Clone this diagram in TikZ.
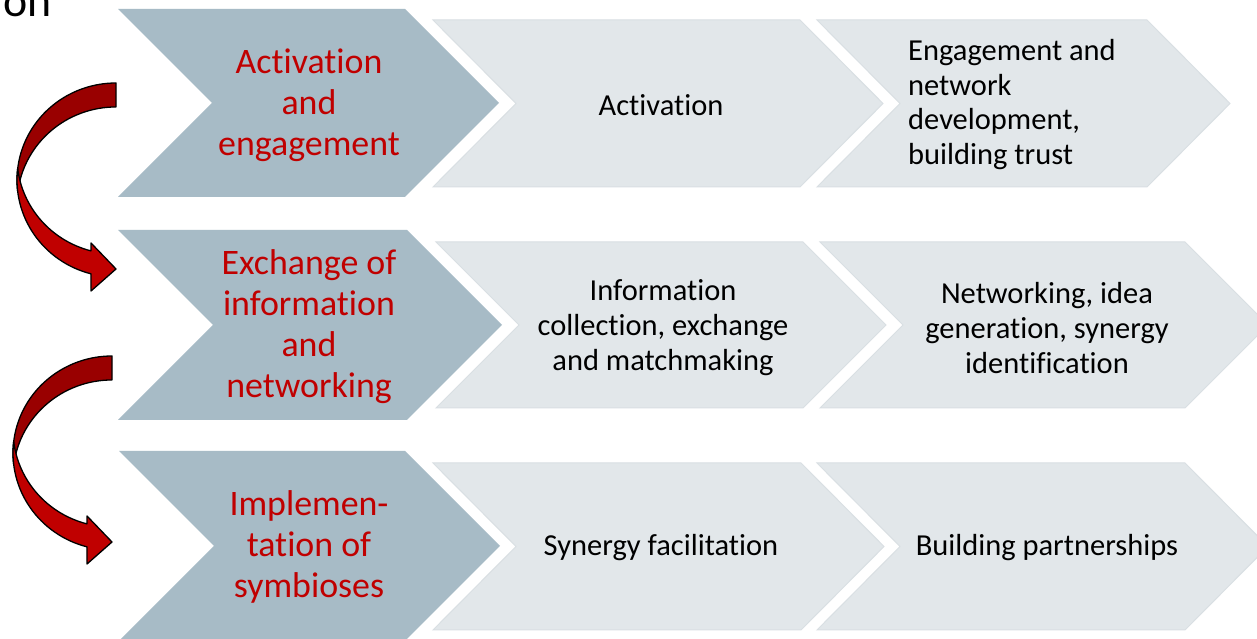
\documentclass[tikz,border=0pt]{standalone}
\usepackage{fontspec}
\setmainfont{Carlito}[Ligatures=NoCommon]
\begin{document}
\begin{tikzpicture}[x=1bp,y=1bp,
  darkchev/.style={fill=chevdark},
  lightchev/.style={fill=chevlight,draw=chevline,line width=1bp},
  redtxt/.style={text=txtred,align=center,inner sep=0,font=\fontsize{36}{41}\selectfont},
  blktxt/.style={text=black,align=center,inner sep=0,font=\fontsize{30.6}{35}\selectfont},
  arrback/.style={fill=arrdark,draw=black,line width=1.3bp,line join=round},
  arrfront/.style={fill=arrred,draw=black,line width=1.3bp,line join=round}]
\definecolor{chevdark}{HTML}{A7BBC6}
\definecolor{chevlight}{HTML}{E2E7EA}
\definecolor{chevline}{HTML}{D9DFE3}
\definecolor{txtred}{HTML}{C00000}
\definecolor{arrdark}{HTML}{990000}
\definecolor{arrred}{HTML}{C00000}
\useasboundingbox (0,0) rectangle (1257,639);
\fill[white] (0,0) rectangle (1257,639);
% chevron macro: #1 style, #2 left, #3 depth, #4 corner, #5 top, #6 bottom
\newcommand\chevshape[6]{%
  \path[#1] (#2,#5) -- (#4,#5) -- ({#4+#3},{(#5+#6)/2}) -- (#4,#6) -- (#2,#6) -- ({#2+#3},{(#5+#6)/2}) -- cycle;}
% partial title text
\node[anchor=base east,inner sep=0,font=\fontsize{46}{50}\selectfont] (title) at (52,622) {on};
% row 1
\chevshape{darkchev}{118}{94}{405}{630}{442}
\chevshape{lightchev}{433}{83}{800}{619}{452}
\chevshape{lightchev}{817}{83}{1147}{619}{452}
% row 2
\chevshape{darkchev}{118}{95}{407}{409}{219}
\chevshape{lightchev}{436}{83}{803}{397}{231}
\chevshape{lightchev}{820}{83}{1185}{397}{231}
% row 3
\chevshape{darkchev}{119}{95}{405}{188}{-2}
\chevshape{lightchev}{433}{83}{801}{176}{9}
\chevshape{lightchev}{817}{83}{1185}{176}{9}
% texts
\node[redtxt] (r1a) at (309,534) {Activation\\and\\engagement};
\node[blktxt] (r1b) at (661,534) {Activation};
\node[blktxt,align=left,anchor=west] (r1c) at (908,534.5) {Engagement and\\network\\development,\\building trust};
\node[redtxt] (r2a) at (309,312.5) {Exchange of\\information\\and\\networking};
\node[blktxt] (r2b) at (663,311) {Information\\collection, exchange\\and matchmaking};
\node[blktxt] (r2c) at (1047,311) {Networking, idea\\generation, synergy\\identification};
\node[redtxt] (r3a) at (309,92) {Implemen-\\tation of\\symbioses};
\node[blktxt] (r3b) at (661,91) {Synergy facilitation};
\node[blktxt] (r3c) at (1047,91) {Building partnerships};
% curved arrows
\newcommand\curvarrow{%
  \path[arrback] (116,556) arc[start angle=90,end angle=187.1,x radius=99,y radius=97]
     arc[start angle=172.9,end angle=90,x radius=99,y radius=97] -- cycle;
  \path[arrfront] (17.7,470.5) arc[start angle=173.19,end angle=255.37,x radius=99,y radius=97]
     -- (91,348) -- (116,370) -- (91,396) -- (91,388.1)
     arc[start angle=255.37,end angle=186.81,x radius=99,y radius=97] -- cycle;}
\curvarrow
\begin{scope}[shift={(-4,-273)}]
\curvarrow
\end{scope}
\end{tikzpicture}
\end{document}
